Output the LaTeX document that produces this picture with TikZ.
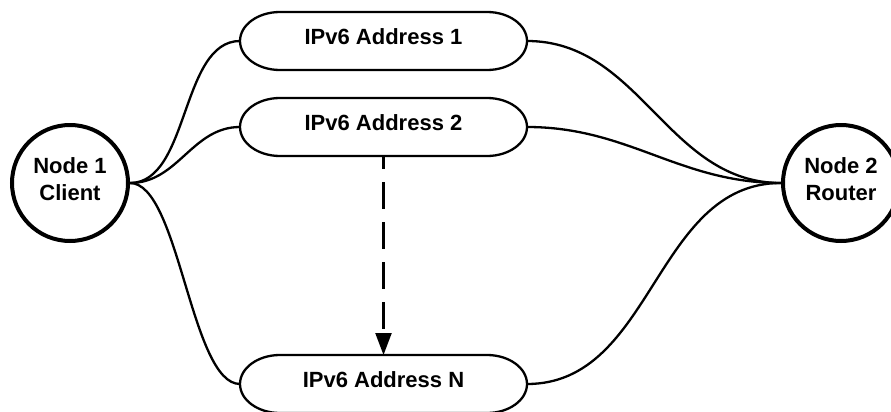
\documentclass[tikz,border=0pt]{standalone}
\usepackage{fontspec}
\setmainfont{Liberation Sans}
\usetikzlibrary{arrows.meta,backgrounds}
\begin{document}
\begin{tikzpicture}[x=1pt,y=-1pt,
  hostnode/.style={circle,draw,line width=4pt,minimum size=116pt,inner sep=0pt},
  hosttext/.style={align=center,font=\bfseries\fontsize{22}{27}\selectfont,yshift=4pt},
  addr/.style={rectangle,minimum width=287pt,minimum height=58pt,inner sep=0pt,outer sep=0pt,
    font=\bfseries\fontsize{22}{26}\selectfont,text height=15.8pt,text depth=8pt},
  addrline/.style={line width=2.3pt},
  link/.style={line width=2.3pt},
  hop/.style={line width=2.3pt,dash pattern=on 27pt off 13pt,dash phase=14pt,
    -{Triangle[width=16pt,length=22pt]}}
]
\useasboundingbox (0,0) rectangle (891,412);

% end hosts
\node[hostnode,label={[hosttext]center:{Node 1\\Client}}] (client) at (70,183) {};
\node[hostnode,label={[hosttext]center:{Node 2\\Router}}] (router) at (841,183) {};

% address nodes
\node[addr] (a1) at (383.5,41) {IPv6 Address 1};
\node[addr] (a2) at (383.5,127) {IPv6 Address 2};
\node[addr] (aN) at (383.5,384) {IPv6 Address N};

\begin{scope}[on background layer]
  \fill[white] (0,0) rectangle (891,412);
  % stadium outlines with elliptical ends
  \foreach \n in {a1,a2,aN}{
    \draw[addrline] ([xshift=40pt]\n.north west) -- ([xshift=-40pt]\n.north east)
      arc[start angle=90,end angle=-90,x radius=40pt,y radius=29pt]
      -- ([xshift=40pt]\n.south west)
      arc[start angle=270,end angle=90,x radius=40pt,y radius=29pt] -- cycle;
  }
\end{scope}

% links from the client
\draw[link] (client.east) to[out=0,in=180,looseness=0.85] (a1.west);
\draw[link] (client.east) to[out=0,in=180] (a2.west);
\draw[link] (client.east) to[out=0,in=180,looseness=0.55] (aN.west);

% links to the router
\foreach \n in {a1,a2,aN}{
  \draw[link] (\n.east) to[out=0,in=180] (router.west);
}

% address change
\draw[hop] (a2.south) -- (aN.north);
\end{tikzpicture}
\end{document}
